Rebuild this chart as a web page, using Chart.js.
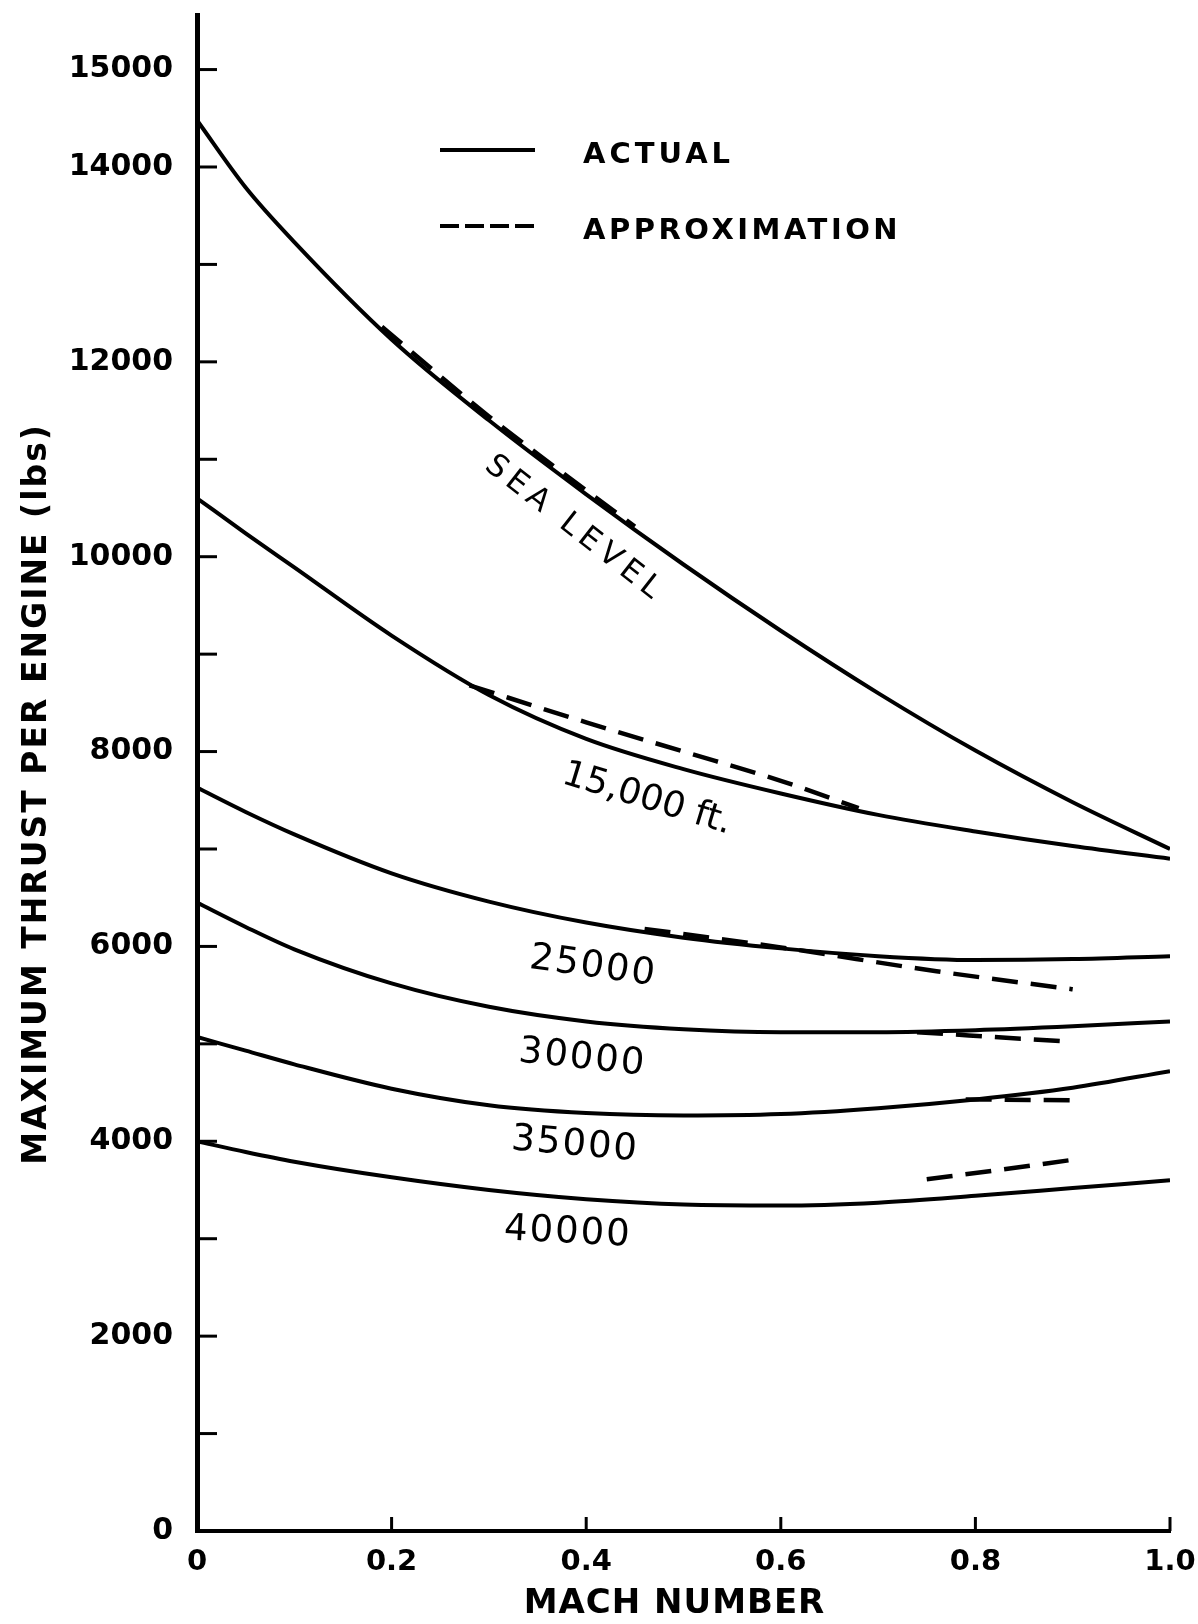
<!DOCTYPE html>
<html>
<head>
<meta charset="utf-8">
<title>Maximum thrust per engine vs Mach number</title>
<script src="https://cdn.jsdelivr.net/npm/chart.js@4.4.1/dist/chart.umd.min.js"></script>
<style>
  html, body { margin: 0; padding: 0; background: #fff; }
  canvas { display: block; }
</style>
</head>
<body>
<canvas id="thrustChart" width="1198" height="1624"></canvas>
<script>
// Mach numbers shared by the "actual" curves
const machActual = [0, 0.05, 0.1, 0.2, 0.3, 0.4, 0.5, 0.6, 0.7, 0.8, 0.9, 1.0];

// Actual maximum thrust per engine (lbs), one array per altitude
const thrustSeaLevel = [14480, 13790, 13230, 12230, 11400, 10640, 9920, 9240, 8600, 8010, 7480, 7000];
const thrust15000 = [10600, 10240, 9890, 9190, 8580, 8130, 7820, 7570, 7350, 7180, 7030, 6900];
const thrust25000 = [7630, 7380, 7150, 6750, 6460, 6245, 6090, 5980, 5900, 5860, 5870, 5900];
const thrust30000 = [6450, 6200, 5970, 5620, 5380, 5230, 5150, 5120, 5120, 5140, 5180, 5230];
const thrust35000 = [5070, 4930, 4790, 4540, 4370, 4290, 4265, 4280, 4340, 4430, 4550, 4720];
const thrust40000 = [4000, 3890, 3790, 3630, 3500, 3405, 3350, 3340, 3370, 3440, 3520, 3600];

// Approximation curves (dashed), each over its own Mach range
const machApproxSeaLevel = [0.19, 0.3, 0.4, 0.45];
const approxSeaLevel = [12360, 11440, 10680, 10310];
const machApprox15000 = [0.28, 0.4, 0.5, 0.6, 0.68];
const approx15000 = [8680, 8300, 8000, 7700, 7420];
const machApprox25000 = [0.46, 0.6, 0.76, 0.9];
const approx25000 = [6180, 5990, 5745, 5560];
const machApprox30000 = [0.74, 0.82, 0.9];
const approx30000 = [5120, 5070, 5020];
const machApprox35000 = [0.79, 0.9];
const approx35000 = [4430, 4420];
const machApprox40000 = [0.75, 0.82, 0.9];
const approx40000 = [3610, 3700, 3810];

// Axis ticks
const machTicks = [0, 0.2, 0.4, 0.6, 0.8, 1.0];
const thrustTicks = [0, 1000, 2000, 3000, 4000, 5000, 6000, 7000, 8000,
    9000, 10000, 11000, 12000, 13000, 14000, 15000];
const thrustTickLabels = [0, 2000, 4000, 6000, 8000, 10000, 12000, 14000, 15000];

// Curve names written along the curves (anchored in data units)
const curveLabels = [
    { text: 'SEA LEVEL', mach: 0.386, thrust: 10300, angle: 38, size: 31, spacing: 6 },
    { text: '15,000 ft.', mach: 0.4625, thrust: 7510, angle: 17, size: 36, spacing: 0 },
    { text: '25000', mach: 0.406, thrust: 5790, angle: 8, size: 37, spacing: 2 },
    { text: '30000', mach: 0.395, thrust: 4850, angle: 6, size: 37, spacing: 2 },
    { text: '35000', mach: 0.3875, thrust: 3960, angle: 5, size: 37, spacing: 2 },
    { text: '40000', mach: 0.380, thrust: 3060, angle: 3, size: 37, spacing: 2 },
];

const FONT = "'DejaVu Sans', 'Liberation Sans', sans-serif";
const INK = '#000';

function toPoints(xs, ys) {
    return xs.map((x, i) => ({ x: x, y: ys[i] }));
}

function actualSet(label, values) {
    return {
        label: label,
        data: toPoints(machActual, values),
        borderColor: INK,
        borderWidth: 4,
        pointRadius: 0,
        fill: false,
        cubicInterpolationMode: 'monotone',
    };
}

function approxSet(label, xs, values) {
    return {
        label: label,
        data: toPoints(xs, values),
        borderColor: INK,
        borderWidth: 4.5,
        borderDash: [26, 13],
        pointRadius: 0,
        fill: false,
        cubicInterpolationMode: 'monotone',
    };
}

function drawText(ctx, text, x, y, font, spacing, angle, align) {
    ctx.save();
    ctx.translate(x, y);
    ctx.rotate((angle || 0) * Math.PI / 180);
    ctx.font = font;
    ctx.letterSpacing = spacing + 'px';
    ctx.fillStyle = INK;
    ctx.textAlign = align || 'center';
    ctx.textBaseline = 'middle';
    ctx.fillText(text, align === 'left' ? 0 : spacing / 2, 0);
    ctx.restore();
}

// Inward tick marks, legend, curve names and axis titles
const decorations = {
    id: 'decorations',
    afterDraw(chart) {
        const ctx = chart.ctx;
        const xs = chart.scales.x;
        const ys = chart.scales.y;
        const area = chart.chartArea;

        ctx.save();
        ctx.strokeStyle = INK;
        ctx.lineCap = 'butt';
        ctx.lineWidth = 3;
        thrustTicks.forEach(v => {
            if (v === 0) return;
            const py = ys.getPixelForValue(v);
            ctx.beginPath();
            ctx.moveTo(area.left, py);
            ctx.lineTo(area.left + 20, py);
            ctx.stroke();
        });
        machTicks.forEach(m => {
            if (m === 0) return;
            const px = xs.getPixelForValue(m);
            ctx.beginPath();
            ctx.moveTo(px, area.bottom);
            ctx.lineTo(px, area.bottom - 14);
            ctx.stroke();
        });

        // legend
        ctx.lineWidth = 4;
        ctx.beginPath();
        ctx.moveTo(440, 150);
        ctx.lineTo(535, 150);
        ctx.stroke();
        ctx.setLineDash([19, 6]);
        ctx.beginPath();
        ctx.moveTo(440, 226);
        ctx.lineTo(535, 226);
        ctx.stroke();
        ctx.restore();

        const legendFont = 'bold 29px ' + FONT;
        drawText(ctx, 'ACTUAL', 583, 155, legendFont, 4, 0, 'left');
        drawText(ctx, 'APPROXIMATION', 583, 231, legendFont, 3.5, 0, 'left');

        curveLabels.forEach(l => {
            drawText(ctx, l.text, xs.getPixelForValue(l.mach), ys.getPixelForValue(l.thrust),
                l.size + 'px ' + FONT, l.spacing, l.angle);
        });

        drawText(ctx, 'MAXIMUM THRUST PER ENGINE (lbs)', 37, 795, 'bold 33px ' + FONT, 2, -90);
        drawText(ctx, 'MACH NUMBER', 674, 1604, 'bold 34px ' + FONT, 1, 0);
    },
};

const whiteBackground = {
    id: 'whiteBackground',
    beforeDraw(chart) {
        const ctx = chart.ctx;
        ctx.save();
        ctx.fillStyle = '#fff';
        ctx.fillRect(0, 0, chart.width, chart.height);
        ctx.restore();
    },
};

new Chart(document.getElementById('thrustChart').getContext('2d'), {
    type: 'line',
    data: {
        datasets: [
            actualSet('Sea level', thrustSeaLevel),
            actualSet('15,000 ft', thrust15000),
            actualSet('25000 ft', thrust25000),
            actualSet('30000 ft', thrust30000),
            actualSet('35000 ft', thrust35000),
            actualSet('40000 ft', thrust40000),
            approxSet('Sea level approx.', machApproxSeaLevel, approxSeaLevel),
            approxSet('15,000 ft approx.', machApprox15000, approx15000),
            approxSet('25000 ft approx.', machApprox25000, approx25000),
            approxSet('30000 ft approx.', machApprox30000, approx30000),
            approxSet('35000 ft approx.', machApprox35000, approx35000),
            approxSet('40000 ft approx.', machApprox40000, approx40000),
        ],
    },
    options: {
        responsive: false,
        animation: false,
        devicePixelRatio: 1,
        layout: { padding: { top: 15, right: 28, bottom: 0, left: 0 } },
        plugins: {
            legend: { display: false },
            tooltip: { enabled: false },
        },
        scales: {
            x: {
                type: 'linear',
                min: 0,
                max: 1,
                afterFit: s => {
                    s.height = 93;
                    s.paddingLeft = 0;
                    s.paddingRight = 0;
                },
                afterBuildTicks: s => { s.ticks = machTicks.map(v => ({ value: v })); },
                grid: { display: false, drawTicks: false },
                border: { display: true, color: INK, width: 4 },
                ticks: {
                    color: INK,
                    padding: 14,
                    maxRotation: 0,
                    autoSkip: false,
                    font: { family: FONT, size: 29, weight: 'bold' },
                    callback: v => (v === 0 ? '0' : v.toFixed(1)),
                },
            },
            y: {
                type: 'linear',
                min: 0,
                max: 15560,
                afterFit: s => {
                    s.width = 197;
                    s.paddingTop = 0;
                    s.paddingBottom = 0;
                },
                afterBuildTicks: s => { s.ticks = thrustTicks.map(v => ({ value: v })); },
                grid: { display: false, drawTicks: false },
                border: { display: true, color: INK, width: 5 },
                ticks: {
                    color: INK,
                    padding: 24,
                    autoSkip: false,
                    font: { family: FONT, size: 30, weight: 'bold' },
                    callback: v => (thrustTickLabels.includes(v) ? String(v) : ''),
                },
            },
        },
    },
    plugins: [whiteBackground, decorations],
});
</script>
</body>
</html>
